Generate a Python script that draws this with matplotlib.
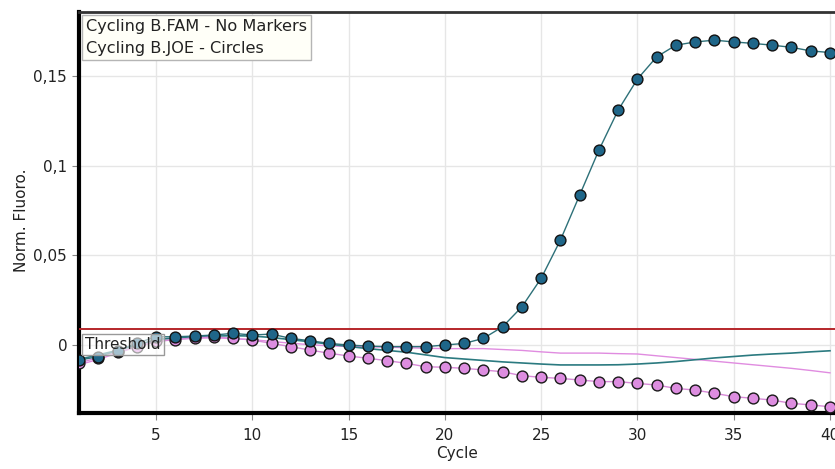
import matplotlib
matplotlib.use("Agg")
import matplotlib.pyplot as plt
from matplotlib.ticker import FuncFormatter

plt.rcParams['font.family'] = ['DejaVu Sans']

# cycle numbers and normalised fluorescence per run
cycles = list(range(1, 41))

fam_circles = [-0.0084, -0.0065, -0.0032, 0.0010, 0.0046, 0.0046, 0.0050, 0.0056, 0.0065, 0.0056,
               0.0061, 0.0037, 0.0024, 0.0009, 0.0000, -0.0006, -0.0009, -0.0009, -0.0009, 0.0000,
               0.0009, 0.0037, 0.0102, 0.0213, 0.0372, 0.0585, 0.0836, 0.1087, 0.1310, 0.1483,
               0.1607, 0.1672, 0.1690, 0.1700, 0.1690, 0.1682, 0.1672, 0.1660, 0.1640, 0.1631]

joe_circles = [-0.0100, -0.0070, -0.0040, -0.0010, 0.0020, 0.0030, 0.0040, 0.0045, 0.0037, 0.0028,
               0.0009, -0.0009, -0.0028, -0.0046, -0.0061, -0.0074, -0.0087, -0.0102, -0.0121, -0.0124,
               -0.0130, -0.0139, -0.0149, -0.0171, -0.0180, -0.0186, -0.0195, -0.0204, -0.0204, -0.0214,
               -0.0223, -0.0242, -0.0251, -0.0269, -0.0288, -0.0297, -0.0307, -0.0325, -0.0334, -0.0344]

fam_line = [-0.0080, -0.0055, -0.0030, 0.0000, 0.0030, 0.0040, 0.0045, 0.0050, 0.0052, 0.0050,
            0.0042, 0.0030, 0.0018, 0.0005, -0.0008, -0.0020, -0.0030, -0.0040, -0.0055, -0.0070,
            -0.0078, -0.0086, -0.0094, -0.0100, -0.0106, -0.0111, -0.0111, -0.0111, -0.0110, -0.0106,
            -0.0100, -0.0092, -0.0082, -0.0072, -0.0064, -0.0056, -0.0050, -0.0045, -0.0038, -0.0032]

joe_line = [-0.0110, -0.0080, -0.0045, -0.0010, 0.0020, 0.0032, 0.0038, 0.0040, 0.0036, 0.0030,
            0.0020, 0.0010, 0.0002, -0.0005, -0.0008, -0.0010, -0.0012, -0.0015, -0.0018, -0.0020,
            -0.0020, -0.0020, -0.0025, -0.0030, -0.0038, -0.0045, -0.0045, -0.0045, -0.0048, -0.0050,
            -0.0060, -0.0070, -0.0080, -0.0090, -0.0100, -0.0110, -0.0120, -0.0130, -0.0142, -0.0155]

threshold = 0.0088

fig = plt.figure(figsize=(8.35, 4.69), dpi=100)
ax = fig.add_axes([79 / 835, 56 / 469, 756 / 835, 401 / 469])

ax.plot(cycles, joe_line, color='#e08ce0', lw=1.0, zorder=2)
ax.plot(cycles, fam_line, color='#2b7a80', lw=1.2, zorder=2)
ax.axhline(threshold, color='#b5262a', lw=1.4, zorder=3)
ax.plot(cycles, joe_circles, color='#d88ad8', lw=1.0, marker='o', ms=7.8,
        mfc='#dd8de0', mec='#1a1a1a', mew=1.0, zorder=4)
ax.plot(cycles, fam_circles, color='#2d7078', lw=1.0, marker='o', ms=7.8,
        mfc='#1f6689', mec='#111111', mew=1.0, zorder=5)

ax.set_xlim(1, 40.26)
ax.set_ylim(-0.0379, 0.1857)
ax.set_xticks([5, 10, 15, 20, 25, 30, 35, 40])
ax.set_yticks([0, 0.05, 0.1, 0.15])
ax.yaxis.set_major_formatter(FuncFormatter(lambda v, p: ('%g' % round(v, 3)).replace('.', ',')))
ax.tick_params(labelsize=11, labelcolor='#222222', color='#888888', length=5, width=0.8)
ax.tick_params(axis='x', pad=6)
ax.grid(True, color='#e6e6e6', lw=1.0, zorder=0)
ax.set_axisbelow(True)

for s in ['left', 'bottom']:
    ax.spines[s].set_linewidth(3)
    ax.spines[s].set_color('black')
ax.spines['top'].set_linewidth(2)
ax.spines['top'].set_color('#333333')
ax.spines['right'].set_visible(False)

ax.set_xlabel('Cycle', fontsize=11, labelpad=2, color='#222222')
ax.set_ylabel('Norm. Fluoro.', fontsize=11, color='#222222')
ax.yaxis.set_label_coords(-0.066, 0.48)

# series key box, top left
ax.text(0.009, 0.982, 'Cycling B.FAM - No Markers\nCycling B.JOE - Circles',
        transform=ax.transAxes, ha='left', va='top', fontsize=11.6, linespacing=1.55,
        color='#222222', zorder=10,
        bbox=dict(boxstyle='square,pad=0.25', fc='#fffff8', ec='#b5b5b5', lw=1))

ax.text(0.008, 0.17, 'Threshold', transform=ax.transAxes, ha='left', va='center',
        fontsize=11, color='#222222', zorder=10,
        bbox=dict(boxstyle='square,pad=0.2', fc=(1, 1, 1, 0.6), ec='#999999', lw=1))

fig.savefig('out.png', dpi=100, facecolor='white')
